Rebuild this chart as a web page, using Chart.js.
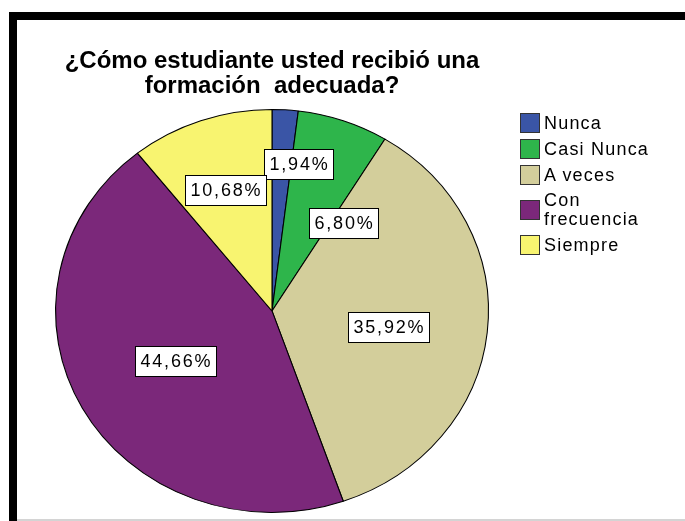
<!DOCTYPE html>
<html>
<head>
<meta charset="utf-8">
<script src="https://cdn.jsdelivr.net/npm/chart.js@4/dist/chart.umd.min.js"></script>
<style>
  html, body { margin: 0; padding: 0; background: #fff; }
  #wrap { position: relative; width: 685px; height: 521px; overflow: hidden; }
  #myChart { position: absolute; left: 0; top: 0; }
  .frameTop { position: absolute; left: 9px; top: 12px; width: 676px; height: 8px; background: #000; }
  .frameLeft { position: absolute; left: 9px; top: 12px; width: 8px; height: 509px; background: #000; }
  .frameBottom { position: absolute; left: 17px; top: 519px; width: 668px; height: 2px; background: #d4d4d4; }
  #legend { position: absolute; left: 520px; top: 113px; font-family: Arial, "Liberation Sans", sans-serif; font-size: 18px; letter-spacing: 1.2px; color: #000; }
  .item { display: flex; align-items: center; margin-bottom: 6px; line-height: 19px; }
  .box { width: 18px; height: 18px; border: 1px solid #333; margin-right: 4px; flex: none; }
</style>
</head>
<body>
<div id="wrap">
  <canvas id="myChart" width="685" height="521"></canvas>
  <div class="frameTop"></div>
  <div class="frameLeft"></div>
  <div class="frameBottom"></div>
  <div id="legend"></div>
</div>
<script>
const titleLines = ["¿Cómo estudiante usted recibió una", "formación  adecuada?"];
const categories = ["Nunca", "Casi Nunca", "A veces", "Con frecuencia", "Siempre"];
const legendText = [["Nunca"], ["Casi Nunca"], ["A veces"], ["Con", "frecuencia"], ["Siempre"]];
const percents = [1.94, 6.80, 35.92, 44.66, 10.68];
const colors = ["#3a55a6", "#2eb54b", "#d3ce9b", "#7b287a", "#f8f470"];

// where each value box sits: fraction of radius, and angle nudge in degrees
const labelRadius = [0.74, 0.56, 0.585, 0.54, 0.64];
const labelNudge = [6.7, 19.8, 1.6, 1.4, -1.7];
// the original pie is a bit wider than tall
const stretchX = 1.074;

const legend = document.getElementById("legend");
categories.forEach((c, i) => {
   const row = document.createElement("div");
   row.className = "item";
   row.innerHTML = '<span class="box" style="background:' + colors[i] + '"></span><span>' + legendText[i].join("<br>") + '</span>';
   legend.appendChild(row);
});

const widenPie = {
   id: "widenPie",
   beforeDatasetsDraw(chart) {
      const a = chart.chartArea;
      const cx = (a.left + a.right) / 2;
      chart.ctx.save();
      chart.ctx.translate(cx, 0);
      chart.ctx.scale(stretchX, 1);
      chart.ctx.translate(-cx, 0);
   },
   afterDatasetsDraw(chart) {
      chart.ctx.restore();
   }
};

const valueBoxes = {
   id: "valueBoxes",
   afterDatasetsDraw(chart) {
      const ctx = chart.ctx;
      const arcs = chart.getDatasetMeta(0).data;
      ctx.save();
      ctx.font = "18px Arial, 'Liberation Sans', sans-serif";
      ctx.letterSpacing = "1.8px";
      ctx.textAlign = "left";
      ctx.textBaseline = "middle";
      arcs.forEach((arc, i) => {
         const p = arc.getProps(["x", "y", "startAngle", "endAngle", "outerRadius"], true);
         const mid = (p.startAngle + p.endAngle) / 2 + labelNudge[i] * Math.PI / 180;
         const r = p.outerRadius * labelRadius[i];
         const cx = p.x + Math.cos(mid) * r;
         const cy = p.y + Math.sin(mid) * r;
         const txt = percents[i].toFixed(2).replace(".", ",") + "%";
         const tw = ctx.measureText(txt).width;
         const w = Math.round(tw + 9);
         const h = 30;
         const bx = Math.round(cx - w / 2) + 0.5;
         const by = Math.round(cy - h / 2) + 0.5;
         ctx.fillStyle = "#fff";
         ctx.fillRect(bx, by, w, h);
         ctx.strokeStyle = "#000";
         ctx.lineWidth = 1;
         ctx.strokeRect(bx, by, w, h);
         ctx.fillStyle = "#000";
         ctx.fillText(txt, bx + 5, cy + 1);
      });
      ctx.restore();
   }
};

const canvas = document.querySelector("#myChart").getContext("2d");
let chart = new Chart(canvas, {
   type: "pie",
   data: {
      labels: categories,
      datasets: [
         {
            data: percents,
            backgroundColor: colors,
            borderColor: "#000",
            borderWidth: 1
         }
      ]
   },
   options: {
      responsive: false,
      animation: false,
      layout: {
         padding: { top: 20, left: 20, right: 161, bottom: 8 }
      },
      plugins: {
         legend: { display: false },
         tooltip: { enabled: false },
         title: {
            display: true,
            text: titleLines,
            color: "#000",
            font: { family: "Arial, 'Liberation Sans', sans-serif", size: 24, weight: "bold", lineHeight: 1.04 },
            padding: { top: 29, bottom: 10 }
         }
      }
   },
   plugins: [widenPie, valueBoxes]
});
</script>
</body>
</html>
